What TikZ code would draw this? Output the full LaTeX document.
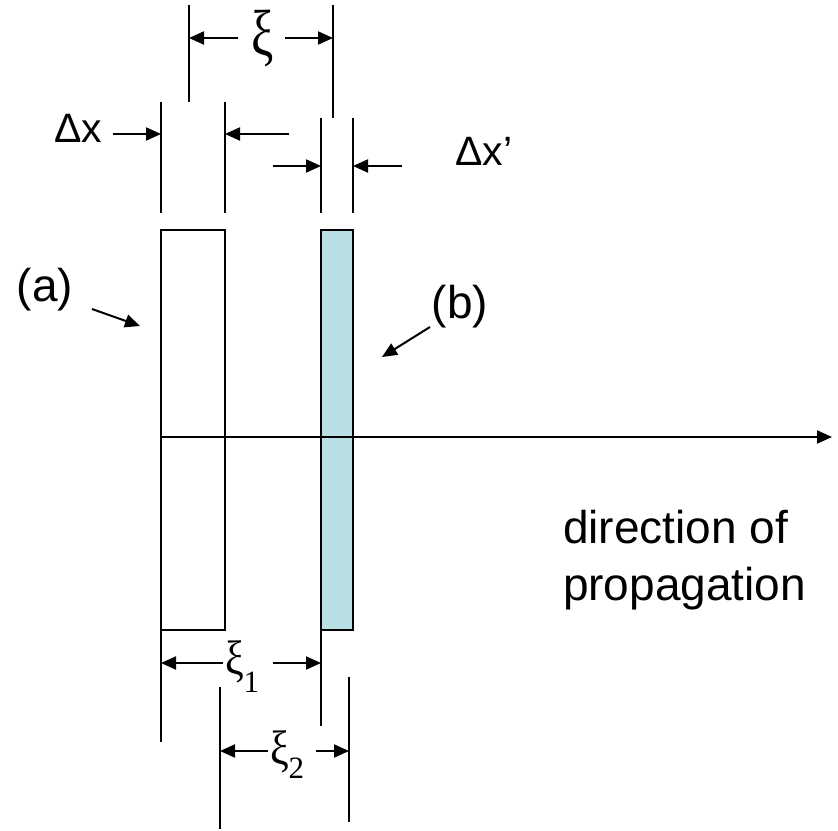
\documentclass[tikz,border=0pt]{standalone}
\usepackage{fontspec}
\setmainfont{Liberation Sans}
\newfontfamily\greekserif{Liberation Serif}
\usetikzlibrary{arrows.meta}
\definecolor{slabfill}{RGB}{184,224,228}
\begin{document}
\begin{tikzpicture}[x=1pt,y=-1pt,line width=2pt,
  dimarrow/.style={-{Triangle[length=15pt,width=13pt]}},
  slab/.style={draw,line width=2pt,inner sep=0pt,outer sep=0pt,minimum height=400pt},
  lab/.style={inner sep=0pt,font=\fontsize{46}{54}\selectfont},
  dlab/.style={inner sep=0pt,font=\fontsize{41}{44}\selectfont},
  xilab/.style={inner sep=0pt,font=\greekserif\fontsize{50}{54}\selectfont},
  xisub/.style={inner sep=0pt,font=\greekserif\fontsize{42}{44}\selectfont}]
\useasboundingbox (0,0) rectangle (838,830);

% slabs
\node[slab,minimum width=64pt] (ra) at (193,430) {};
\node[slab,fill=slabfill,minimum width=32pt] (rb) at (337,430) {};

% extension lines (top)
\coordinate (e1t) at (189,5);   \coordinate (e1b) at (189,102);
\coordinate (e2t) at (333,5);   \coordinate (e2b) at (333,118);
\coordinate (e3t) at (161,102); \coordinate (e3b) at (161,213);
\coordinate (e4t) at (225,102); \coordinate (e4b) at (225,213);
\coordinate (e5t) at (321,118); \coordinate (e5b) at (321,213);
\coordinate (e6t) at (353,118); \coordinate (e6b) at (353,213);
\draw (e1t) -- (e1b);
\draw (e2t) -- (e2b);
\draw (e3t) -- (e3b);
\draw (e4t) -- (e4b);
\draw (e5t) -- (e5b);
\draw (e6t) -- (e6b);

% extension lines (bottom)
\coordinate (f1b) at (161,742);
\coordinate (f2b) at (321,726);
\coordinate (f3t) at (220,687); \coordinate (f3b) at (220,829);
\coordinate (f4t) at (349,677); \coordinate (f4b) at (349,822);
\draw (ra.south west) -- (f1b);
\draw (rb.south west) -- (f2b);
\draw (f3t) -- (f3b);
\draw (f4t) -- (f4b);

% xi
\node[xilab,anchor=base] (xi) at (263,55) {\scalebox{1}[1.3]{ξ}};
\coordinate (xa1) at (238,38); \coordinate (xa2) at (285,38);
\draw[dimarrow] (xa1) -- (xa1 -| e1t);
\draw[dimarrow] (xa2) -- (xa2 -| e2t);

% Delta x
\node[dlab,anchor=base] (dx) at (78,142) {Δx};
\coordinate (dxa1) at (113,134); \coordinate (dxa2) at (289,134);
\draw[dimarrow] (dxa1) -- (dxa1 -| e3t);
\draw[dimarrow] (dxa2) -- (dxa2 -| e4t);

% Delta x'
\node[dlab,anchor=base] (dxp) at (484,165) {Δx’};
\coordinate (dpa1) at (273,166); \coordinate (dpa2) at (402,166);
\draw[dimarrow] (dpa1) -- (dpa1 -| e5t);
\draw[dimarrow] (dpa2) -- (dpa2 -| e6t);

% xi_1
\node[xisub,anchor=base west] (xi1) at (224,674) {\scalebox{1}[1.15]{ξ}\raisebox{-18pt}{\fontsize{31}{32}\selectfont 1}};
\coordinate (x1a1) at (223,663); \coordinate (x1a2) at (273,663);
\draw[dimarrow] (x1a1) -- (x1a1 -| f1b);
\draw[dimarrow] (x1a2) -- (x1a2 -| f2b);

% xi_2
\node[xisub,anchor=base west] (xi2) at (269,764) {\scalebox{1}[1.15]{ξ}\raisebox{-14pt}{\fontsize{31}{32}\selectfont 2}};
\coordinate (x2a1) at (268,751); \coordinate (x2a2) at (316,751);
\draw[dimarrow] (x2a1) -- (x2a1 -| f3t);
\draw[dimarrow] (x2a2) -- (x2a2 -| f4t);

% labels (a), (b)
\node[lab] (la) at (45,290) {(a)};
\coordinate (aa1) at (92,309); \coordinate (aa2) at (140,326);
\draw[dimarrow] (aa1) -- (aa2);
\node[lab] (lb) at (460,307) {(b)};
\coordinate (ba1) at (430,327); \coordinate (ba2) at (382,357);
\draw[dimarrow] (ba1) -- (ba2);

% axis
\coordinate (axe) at (832,437);
\draw[dimarrow] (ra.west |- axe) -- (axe);

% direction text
\node[lab,anchor=base west] (dir1) at (562,543) {direction of};
\node[lab,anchor=base west] (dir2) at (562,600) {propagation};
\end{tikzpicture}
\end{document}
